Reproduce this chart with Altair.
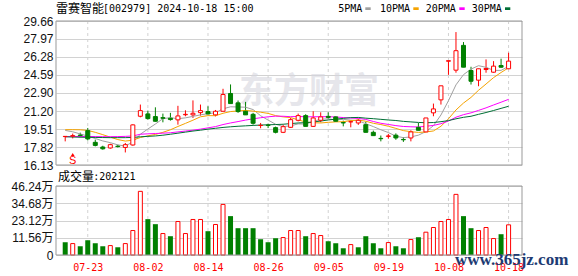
import altair as alt
import pandas as pd

# ---------------- data ----------------
dates = ['07-18','07-19','07-22','07-23','07-24','07-25','07-26','07-29','07-30','07-31',
         '08-01','08-02','08-05','08-06','08-07','08-08','08-09','08-12','08-13','08-14',
         '08-15','08-16','08-19','08-20','08-21','08-22','08-23','08-26','08-27','08-28',
         '08-29','08-30','09-02','09-03','09-04','09-05','09-06','09-09','09-10','09-11',
         '09-12','09-13','09-18','09-19','09-20','09-23','09-24','09-25','09-26','09-27',
         '09-30','10-08','10-09','10-10','10-11','10-14','10-15','10-16','10-17','10-18']

opens = [18.80, 18.84, 18.94, 19.36, 18.26, 17.82, 17.73, 17.90, 17.78, 18.01,
         20.71, 20.93, 20.68, 20.58, 20.52, 20.37, 20.85, 20.84, 21.05, 21.15,
         20.84, 21.18, 22.85, 21.97, 21.18, 20.89, 19.84, 19.88, 19.64, 19.20,
         19.67, 20.33, 20.77, 19.76, 20.33, 20.70, 20.65, 20.12, 20.18, 20.08,
         19.92, 19.20, 18.63, 18.82, 18.93, 18.53, 18.67, 19.67, 19.24, 21.03,
         22.25, 25.88, 25.04, 27.37, 25.01, 24.10, 25.10, 24.85, 25.48, 25.17]
highs = [18.84, 19.08, 19.17, 19.61, 18.51, 17.94, 18.13, 18.04, 18.20, 19.95,
         21.81, 21.24, 21.55, 20.96, 21.03, 21.69, 21.27, 22.20, 21.81, 21.65,
         21.30, 23.29, 23.70, 22.19, 22.06, 21.03, 20.08, 20.00, 19.74, 19.92,
         20.55, 20.96, 20.90, 21.18, 21.08, 21.08, 20.70, 20.30, 20.33, 20.46,
         20.20, 19.36, 18.90, 19.05, 19.10, 18.75, 19.39, 20.08, 20.55, 21.90,
         23.57, 25.93, 28.62, 27.68, 25.36, 25.17, 26.05, 25.89, 26.12, 26.68]
lows = [18.35, 18.63, 18.73, 18.44, 17.88, 17.57, 17.66, 17.78, 17.31, 17.95,
        20.61, 20.40, 20.21, 20.14, 20.30, 19.92, 20.71, 20.55, 20.77, 20.87,
        20.70, 21.18, 21.90, 21.03, 20.84, 19.92, 19.58, 19.60, 19.10, 19.13,
        19.61, 20.23, 19.76, 19.70, 20.14, 20.46, 20.20, 19.76, 19.67, 19.90,
        19.20, 18.89, 18.35, 18.60, 18.50, 18.30, 18.35, 19.39, 19.24, 20.71,
        21.81, 24.60, 24.80, 25.32, 23.69, 23.53, 24.80, 24.80, 25.26, 25.17]
closes = [18.82, 18.89, 18.90, 18.58, 17.97, 17.65, 18.04, 17.86, 18.04, 19.90,
          21.24, 20.49, 20.24, 20.52, 20.40, 20.74, 20.89, 20.99, 21.24, 20.93,
          21.18, 22.75, 21.90, 21.15, 20.84, 20.05, 19.86, 19.85, 19.20, 19.73,
          20.39, 20.77, 19.76, 20.55, 20.65, 20.60, 20.24, 20.08, 20.20, 20.33,
          19.20, 18.89, 18.60, 18.86, 18.67, 18.50, 19.24, 19.39, 20.55, 21.40,
          23.57, 25.93, 26.87, 25.32, 24.00, 25.17, 25.20, 25.42, 25.32, 25.89]

ma5 = [19.38, 19.25, 19.05, 18.85, 18.62, 18.39, 18.23, 18.02, 17.91, 18.30,
       19.02, 19.51, 19.98, 20.48, 20.58, 20.48, 20.56, 20.70, 20.84, 20.95,
       21.04, 21.41, 21.60, 21.58, 21.56, 21.34, 20.76, 20.35, 19.96, 19.74,
       19.81, 19.99, 19.97, 20.24, 20.42, 20.47, 20.36, 20.42, 20.35, 20.29,
       20.01, 19.74, 19.44, 19.18, 18.84, 18.70, 18.77, 18.93, 19.27, 19.82,
       20.83, 22.17, 23.66, 24.62, 25.14, 25.46, 25.31, 25.02, 25.02, 25.40]
ma10 = [19.45, 19.45, 19.44, 19.38, 19.20, 18.98, 18.75, 18.52, 18.38, 18.46,
        18.71, 18.87, 19.00, 19.20, 19.44, 19.75, 20.04, 20.34, 20.66, 20.77,
        20.76, 20.99, 21.15, 21.21, 21.26, 21.19, 21.09, 20.98, 20.77, 20.65,
        20.58, 20.38, 20.16, 20.10, 20.08, 20.14, 20.18, 20.20, 20.30, 20.36,
        20.24, 20.05, 19.93, 19.77, 19.57, 19.36, 19.26, 19.19, 19.23, 19.33,
        19.77, 20.47, 21.30, 21.95, 22.48, 23.15, 23.74, 24.34, 24.82, 25.27]
ma20 = [18.80, 18.80, 18.81, 18.81, 18.80, 18.79, 18.79, 18.80, 18.82, 18.86,
        19.02, 19.06, 19.09, 19.12, 19.16, 19.24, 19.32, 19.40, 19.50, 19.62,
        19.74, 19.93, 20.08, 20.21, 20.35, 20.47, 20.57, 20.66, 20.72, 20.71,
        20.67, 20.69, 20.66, 20.66, 20.67, 20.67, 20.64, 20.59, 20.54, 20.51,
        20.41, 20.22, 20.05, 19.94, 19.83, 19.75, 19.72, 19.70, 19.77, 19.85,
        20.01, 20.26, 20.62, 20.86, 21.03, 21.26, 21.50, 21.77, 22.03, 22.30]
ma30 = [18.78, 18.76, 18.74, 18.73, 18.72, 18.71, 18.70, 18.70, 18.70, 18.72,
        18.78, 18.82, 18.86, 18.93, 19.02, 19.12, 19.22, 19.32, 19.40, 19.50,
        19.58, 19.66, 19.72, 19.77, 19.81, 19.85, 19.88, 19.91, 19.93, 19.96,
        20.02, 20.08, 20.11, 20.17, 20.26, 20.36, 20.44, 20.51, 20.58, 20.60,
        20.53, 20.48, 20.42, 20.36, 20.31, 20.23, 20.18, 20.13, 20.10, 20.12,
        20.20, 20.30, 20.47, 20.61, 20.71, 20.89, 21.06, 21.25, 21.45, 21.65]

# volume in 万 (10k shares)
volumes = [8.55, 7.65, 5.86, 9.89, 7.88, 5.86, 6.31, 5.18, 7.65, 16.40,
           42.65, 24.03, 20.66, 14.38, 12.59, 22.46, 14.38, 23.81, 23.81, 15.95,
           20.44, 33.90, 26.05, 17.97, 17.97, 17.97, 10.57, 8.55, 11.24, 11.69,
           16.40, 16.40, 12.59, 14.38, 13.04, 9.22, 7.88, 4.51, 6.98, 5.18,
           12.59, 7.88, 4.51, 8.33, 5.86, 4.51, 10.35, 11.91, 15.28, 18.42,
           22.46, 23.81, 40.63, 26.05, 17.97, 16.40, 18.42, 11.02, 13.93, 20.21]
# 1 = rising (red hollow bar), 0 = falling (green bar)
vol_up = [0, 1, 0, 0, 0, 0, 1, 0, 1, 1,
          1, 0, 0, 1, 0, 1, 1, 1, 1, 0,
          1, 1, 0, 0, 0, 0, 0, 0, 0, 1,
          1, 1, 0, 1, 1, 0, 0, 0, 1, 0,
          0, 0, 0, 1, 0, 0, 1, 0, 1, 1,
          1, 1, 1, 0, 0, 1, 1, 1, 0, 1]

price_ticks = [16.13, 17.82, 19.51, 21.20, 22.90, 24.59, 26.28, 27.97, 29.66]
vol_ticks = [0, 11.56, 23.12, 34.68, 46.24]
label_idx = [3, 11, 19, 27, 35, 43, 51, 59]
signal_idx = [1]

title_cn = "雷赛智能"
title_rest = "[002979] 2024-10-18 15:00"
vol_title_cn = "成交量"
vol_title_rest = ":202121"
ma_names = ["5PMA", "10PMA", "20PMA", "30PMA"]

# ---------------- styling / layout ----------------
RED = "#ff0000"
GREEN = "#008000"
GRID = "#d2d2d2"
FRAME = "#999999"
MA_COLORS = ["#a0a0a0", "#f5a300", "#ff00ff", "#006f35"]
CJK = "Noto Sans CJK SC"
MONO = "DejaVu Sans Mono"

W = 466
MAIN_TOP, MAIN_BOT = 0, 144      # main panel, px inside the view
VOL_TOP, VOL_BOT = 165, 234      # volume panel
H = VOL_BOT

df = pd.DataFrame({
    "i": list(range(len(dates))), "date": dates,
    "open": opens, "high": highs, "low": lows, "close": closes,
    "ma5": ma5, "ma10": ma10, "ma20": ma20, "ma30": ma30,
    "vol": volumes, "vup": vol_up,
})
grid_df = pd.DataFrame({"i": label_idx})
one = pd.DataFrame({"k": [0]})

date_expr = "[" + ",".join("'%s'" % d for d in dates) + "][datum.value]"
xscale = alt.Scale(domain=[-0.56, 60.12], nice=False, zero=False)
X = alt.X("i:Q", scale=xscale,
          axis=alt.Axis(values=label_idx, grid=False, labelExpr=date_expr, labelColor=RED,
                        labelFont=MONO, labelFontSize=10, labelPadding=7, ticks=False,
                        domain=False, title=None))

yscale = alt.Scale(domain=[16.13, 29.66], nice=False, zero=False, range=[MAIN_BOT, MAIN_TOP])
yaxis = alt.Axis(values=price_ticks, format=".2f", grid=True, gridColor=GRID, ticks=False,
                 domain=False, title=None, labelFont="Liberation Sans", labelFontSize=12,
                 labelColor="#111111", labelPadding=3, orient="left")


def Y(field):
    return alt.Y(field + ":Q", scale=yscale, axis=yaxis)


vscale = alt.Scale(domain=[0, 46.24], nice=False, zero=True, range=[VOL_BOT, VOL_TOP])
vaxis = alt.Axis(values=vol_ticks, grid=True, gridColor=GRID, ticks=False, domain=False,
                 title=None, labelFont="Liberation Sans, Noto Sans CJK SC", labelFontSize=12,
                 labelColor="#111111", labelPadding=3, orient="left",
                 labelExpr="datum.value == 0 ? '0' : format(datum.value, '.2f') + '万'")


def txt(text, x, y, size=12, font=CJK, color="#000000", **kw):
    return alt.Chart(one).mark_text(text=text, align="left", baseline="middle",
                                    fontSize=size, font=font, color=color, **kw).encode(
        x=alt.value(x), y=alt.value(y))


def swatch(x0, x1, color):
    return alt.Chart(one).mark_rect(color=color).encode(
        x=alt.value(x0), x2=alt.value(x1), y=alt.value(-13.7), y2=alt.value(-11))


def frame(y0, y1):
    return alt.Chart(one).mark_rect(fillOpacity=0, stroke=FRAME, strokeWidth=1).encode(
        x=alt.value(0), x2=alt.value(W), y=alt.value(y0), y2=alt.value(y1))


def vgrid(y0, y1):
    return alt.Chart(grid_df).mark_rule(color=GRID, strokeDash=[3, 3], strokeWidth=1).encode(
        x=X, y=alt.value(y0), y2=alt.value(y1))


# ---------------- main (price) panel ----------------
base = alt.Chart(df)
up = "datum.close >= datum.open"

watermark = txt("东方财富", 183, 71, size=35, color="#d6d6de", fontWeight="bold", opacity=0.6)

wicks = base.mark_rule(strokeWidth=1).encode(
    x=X, y=Y("low"), y2="high:Q",
    color=alt.condition(up, alt.value(RED), alt.value(GREEN)))
body_up = base.transform_filter(up).mark_bar(size=4, fill="white", stroke=RED,
                                             strokeWidth=1).encode(
    x=X, y=Y("open"), y2="close:Q")
body_dn = base.transform_filter("datum.close < datum.open").mark_bar(
    size=4, fill=GREEN, stroke=GREEN, strokeWidth=1).encode(
    x=X, y=Y("open"), y2="close:Q")

ma_layers = [base.mark_line(strokeWidth=1, color=c).encode(x=X, y=Y(f))
             for f, c in zip(["ma5", "ma10", "ma20", "ma30"], MA_COLORS)]

sig = df[df["i"].isin(signal_idx)]
sig_tri = alt.Chart(sig).mark_point(shape="triangle-up", filled=True, size=14,
                                    color=RED, opacity=1).encode(x=X, y=alt.value(133.5))
sig_s = alt.Chart(sig).mark_text(text="S", fontSize=11, font="Liberation Sans",
                                 color=RED, baseline="middle").encode(x=X, y=alt.value(139.5))

main = alt.layer(watermark, vgrid(MAIN_TOP, MAIN_BOT), wicks, *ma_layers, body_up, body_dn,
                 sig_tri, sig_s)

# ---------------- volume panel ----------------
vbase = alt.Chart(df)
vol_upbars = vbase.transform_filter("datum.vup == 1").mark_bar(
    size=4, fill="white", stroke=RED, strokeWidth=1).encode(
    x=X, y=alt.Y("vol:Q", scale=vscale, axis=vaxis))
vol_dnbars = vbase.transform_filter("datum.vup == 0").mark_bar(
    size=5, fill=GREEN, strokeWidth=0).encode(
    x=X, y=alt.Y("vol:Q", scale=vscale, axis=vaxis))
volume = alt.layer(vgrid(VOL_TOP, VOL_BOT), vol_upbars, vol_dnbars)

# ---------------- texts, legend, frames ----------------
annot = [
    txt(title_cn, 0, -12.5, size=12),
    txt(title_rest, 47, -12.5, size=10, font=MONO),
    txt(ma_names[0], 282.3, -12.5, size=10, font=MONO), swatch(309.3, 314.7, MA_COLORS[0]),
    txt(ma_names[1], 324, -12.5, size=10, font=MONO), swatch(357.3, 362.7, MA_COLORS[1]),
    txt(ma_names[2], 369.7, -12.5, size=10, font=MONO), swatch(403.3, 408.7, MA_COLORS[2]),
    txt(ma_names[3], 415.7, -12.5, size=10, font=MONO), swatch(449, 454.3, MA_COLORS[3]),
    txt(vol_title_cn, 2, VOL_TOP - 9.3, size=12),
    txt(vol_title_rest, 37.3, VOL_TOP - 9.3, size=10, font=MONO),
    frame(MAIN_TOP, MAIN_BOT), frame(VOL_TOP, VOL_BOT),
    txt("www.365jz.com", 399, VOL_TOP + 74, size=17, font="Liberation Serif",
        color="#1d3b73", fontWeight="bold"),
]

chart = alt.layer(main, volume, *annot).resolve_scale(y="independent").properties(
    width=W, height=H,
    autosize=alt.AutoSizeParams(type="none"),
    padding={"left": 56, "top": 21, "right": 56, "bottom": 21},
    background="white",
).configure_view(strokeWidth=0)

chart.save("out.html", embed_options={"renderer": "svg", "actions": False})
